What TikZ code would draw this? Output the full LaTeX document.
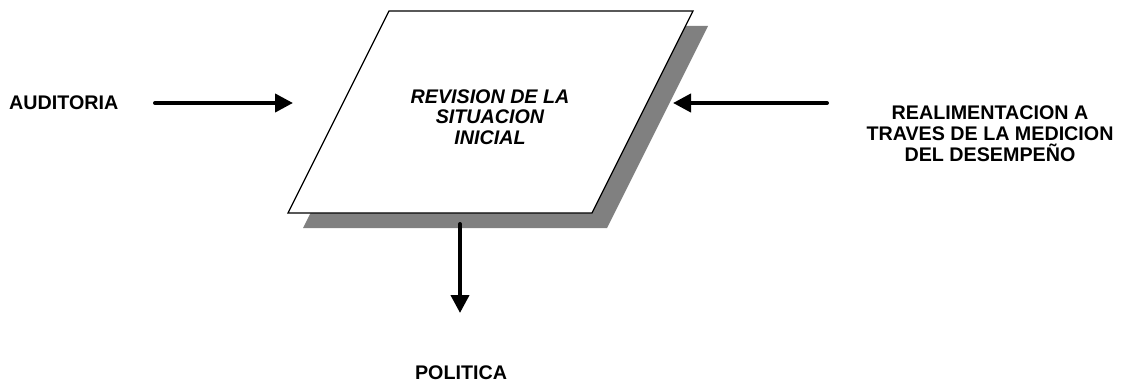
\documentclass[tikz,border=0pt]{standalone}
\usepackage{fontspec}
\setmainfont{Liberation Sans}
\usetikzlibrary{arrows.meta}
\begin{document}
\begin{tikzpicture}[x=1pt,y=-1pt,
  lbl/.style={font=\fontsize{19.7}{21}\selectfont\bfseries, inner sep=0pt, align=center},
  ctr/.style={font=\fontsize{19.7}{20.5}\selectfont\bfseries\itshape, inner sep=0pt, align=center},
  flow/.style={line width=4pt, line cap=round, -{Triangle[length=18pt,width=18pt]}},
  shadowfill/.style={fill=black!50, draw=none},
  boxstyle/.style={fill=white, draw=black, line width=1.3pt, line join=miter}]
\useasboundingbox (0,0) rectangle (1129,385);
% parallelogram corners
\coordinate (tl) at (389,11);
\coordinate (tr) at (693,11);
\coordinate (br) at (592,213);
\coordinate (bl) at (288,213);
% shadow
\fill[shadowfill] ([shift={(15,15)}]tl) -- ([shift={(15,15)}]tr) -- ([shift={(15,15)}]br) -- ([shift={(15,15)}]bl) -- cycle;
\draw[boxstyle] (tl) -- (tr) -- (br) -- (bl) -- cycle;
\node[ctr] (proc) at (490,117) {REVISION DE LA\\SITUACION\\INICIAL};
% labels
\node[lbl, anchor=west] (aud) at (9,103) {AUDITORIA};
\node[lbl] (real) at (990,134) {REALIMENTACION A\\TRAVES DE LA MEDICION\\DEL DESEMPEÑO};
\node[lbl] (pol) at (461,373) {POLITICA};
% arrow ends
\coordinate (a1s) at (155,103);
\coordinate (a1e) at (293,103);
\coordinate (a2s) at (827,103);
\coordinate (a2e) at (673,103);
\coordinate (a3s) at (460,224);
\coordinate (a3e) at (460,313);
\draw[flow] (a1s) -- (a1e);
\draw[flow] (a2s) -- (a2e);
\draw[flow] (a3s) -- (a3e);
\end{tikzpicture}
\end{document}
